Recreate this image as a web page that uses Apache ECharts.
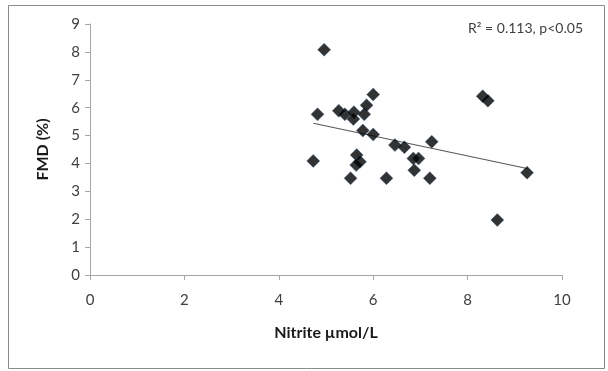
<!DOCTYPE html>
<html>
<head>
<meta charset="utf-8">
<script src="https://cdn.jsdelivr.net/npm/echarts@6/dist/echarts.min.js"></script>
<style>
  html, body { margin: 0; padding: 0; background: #fff; }
  #chart { width: 608px; height: 371px; }
</style>
</head>
<body>
<div id="chart"></div>
<script>
// Nitrite (µmol/L) vs FMD (%)
const nitrite = [4.73, 4.82, 4.96, 5.27, 5.40, 5.59, 5.58, 5.81, 5.86, 6.00,
  5.78, 6.00, 6.46, 6.66, 7.24, 5.65, 5.72, 5.64, 5.52, 6.28,
  6.85, 6.96, 6.87, 7.20, 8.32, 8.43, 9.26, 8.63]
const fmd = [4.09, 5.76, 8.08, 5.89, 5.76, 5.84, 5.59, 5.76, 6.09, 6.47,
  5.18, 5.04, 4.66, 4.58, 4.78, 4.30, 4.06, 3.94, 3.47, 3.47,
  4.18, 4.18, 3.76, 3.47, 6.41, 6.25, 3.67, 1.97]

// linear trendline endpoints (as drawn)
const trendX = [4.73, 9.26]
const trendY = [5.44, 3.82]

const xTicks = [0, 2, 4, 6, 8, 10]
const yTicks = [0, 1, 2, 3, 4, 5, 6, 7, 8, 9]

const font = 'Lato, "Open Sans", sans-serif'

const chart = echarts.init(document.getElementById('chart'), null, { renderer: 'canvas' })

chart.setOption({
  animation: false,
  backgroundColor: '#fff',
  title: {
    text: 'R² = 0.113, p<0.05',
    right: 20,
    top: 16,
    textStyle: { fontSize: 14, fontWeight: 'normal', color: '#404040', fontFamily: font },
  },
  graphic: [{
    type: 'rect',
    shape: { x: 8.5, y: 5.5, width: 596, height: 363 },
    style: { fill: 'none', stroke: '#8a8a8a', lineWidth: 1 },
  }],
  grid: { left: 90, right: 46, top: 24, bottom: 96 },
  xAxis: {
    type: 'value',
    min: xTicks[0],
    max: xTicks[xTicks.length - 1],
    interval: 2,
    name: 'Nitrite µmol/L',
    nameLocation: 'middle',
    nameGap: 50,
    nameTextStyle: { fontSize: 16, fontWeight: 'bold', color: '#1a1a1a', fontFamily: font },
    axisLine: { show: true, lineStyle: { color: '#a6a6a6', width: 1 } },
    axisTick: { show: true, length: 5, lineStyle: { color: '#a6a6a6' } },
    axisLabel: { fontSize: 15, color: '#404040', fontFamily: font, margin: 18 },
    splitLine: { show: false },
  },
  yAxis: {
    type: 'value',
    min: yTicks[0],
    max: yTicks[yTicks.length - 1],
    interval: 1,
    name: 'FMD (%)',
    nameLocation: 'middle',
    nameGap: 39,
    nameTextStyle: { fontSize: 16, fontWeight: 'bold', color: '#1a1a1a', fontFamily: font },
    axisLine: { show: true, lineStyle: { color: '#a6a6a6', width: 1 } },
    axisTick: { show: true, length: 5, lineStyle: { color: '#a6a6a6' } },
    axisLabel: { fontSize: 15, color: '#404040', fontFamily: font, margin: 10 },
    splitLine: { show: false },
  },
  series: [
    {
      type: 'line',
      data: trendX.map((x, i) => [x, trendY[i]]),
      symbol: 'none',
      lineStyle: { color: '#595959', width: 1.2 },
      z: 1,
    },
    {
      type: 'scatter',
      data: nitrite.map((x, i) => [x, fmd[i]]),
      symbol: 'diamond',
      symbolSize: 13,
      itemStyle: { color: '#000', borderColor: '#3a5a80', borderWidth: 0.5 },
      z: 3,
    },
  ],
})
</script>
</body>
</html>
